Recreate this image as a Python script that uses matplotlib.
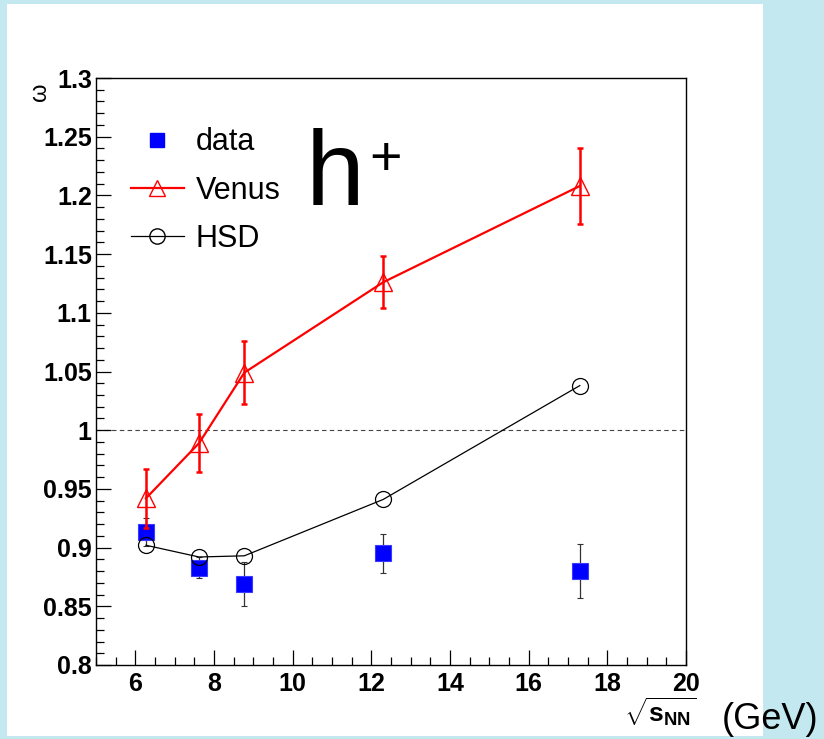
import matplotlib
matplotlib.use('Agg')
import matplotlib.pyplot as plt
from matplotlib.lines import Line2D
from matplotlib.patches import Rectangle
from matplotlib.ticker import MultipleLocator, FixedFormatter, FixedLocator

# beam energies sqrt(s_NN) in GeV
energy = [6.27, 7.62, 8.77, 12.3, 17.3]

# scaled variance omega for h+
data_w = [0.913, 0.883, 0.869, 0.895, 0.880]
data_err = [0.012, 0.009, 0.019, 0.017, 0.023]

venus_w = [0.942, 0.989, 1.049, 1.126, 1.208]
venus_err = [0.025, 0.025, 0.027, 0.022, 0.032]

hsd_w = [0.902, 0.892, 0.893, 0.941, 1.038]

xticks = [6, 8, 10, 12, 14, 16, 18, 20]
yticks = [0.8, 0.85, 0.9, 0.95, 1.0, 1.05, 1.1, 1.15, 1.2, 1.25, 1.3]
ytick_labels = ['0.8', '0.85', '0.9', '0.95', '1', '1.05', '1.1', '1.15', '1.2', '1.25', '1.3']

plt.rcParams['font.family'] = ['Liberation Sans', 'DejaVu Sans']
plt.rcParams['mathtext.fontset'] = 'custom'
plt.rcParams['mathtext.rm'] = 'Liberation Sans'
plt.rcParams['mathtext.bf'] = 'Liberation Sans:bold'
plt.rcParams['mathtext.it'] = 'Liberation Sans:italic'

fig = plt.figure(figsize=(8.24, 7.39), dpi=100, facecolor='#c3e8f0')
# white slide panel behind the plot
panel = Rectangle((7 / 824, 3 / 739), 756 / 824, 732 / 739,
                  transform=fig.transFigure, facecolor='white',
                  edgecolor='none', zorder=-10)
fig.add_artist(panel)

ax = fig.add_axes([96 / 824, 1 - 665 / 739, 590 / 824, 587 / 739])
ax.set_zorder(1)
ax.set_facecolor('white')

ax.set_xlim(5, 20)
ax.set_ylim(0.8, 1.3)

ax.axhline(1.0, color='#444444', lw=0.8, ls=(0, (4, 3)), zorder=1)

ax.errorbar(energy, data_w, yerr=data_err, fmt='s', color='#0000ff', ms=11,
            mec='#3a3aff', mew=0.8, ecolor='#333333', elinewidth=0.9,
            capsize=2, capthick=0.9, zorder=2)
ax.errorbar(energy, venus_w, yerr=venus_err, fmt='none', ecolor='#ff0000',
            elinewidth=1.8, capsize=2, capthick=1.8, zorder=3)
ax.plot(energy, venus_w, '-^', color='#ff0000', lw=1.6, ms=13, mfc='none',
        mec='#ff0000', mew=1.0, zorder=4)
ax.plot(energy, hsd_w, '-o', color='black', lw=0.9, ms=11.5, mfc='none',
        mec='black', mew=0.9, zorder=5)

# axis ticks in ROOT style
ax.xaxis.set_major_locator(FixedLocator(xticks))
ax.xaxis.set_minor_locator(MultipleLocator(0.5))
ax.yaxis.set_major_locator(FixedLocator(yticks))
ax.yaxis.set_major_formatter(FixedFormatter(ytick_labels))
ax.yaxis.set_minor_locator(MultipleLocator(0.01))
ax.tick_params(which='both', direction='in', top=False, right=False, width=0.9)
ax.tick_params(which='major', length=11, labelsize=18, pad=3)
ax.tick_params(axis='x', which='major', pad=5)
ax.tick_params(which='minor', length=5.5)
for lab in ax.get_xticklabels() + ax.get_yticklabels():
    lab.set_fontweight('bold')
for sp in ax.spines.values():
    sp.set_linewidth(1.0)

handles = [
    Line2D([], [], ls='none', marker='s', color='#0000ff', ms=10),
    Line2D([], [], ls='-', marker='^', color='#ff0000', lw=1.6, ms=12, mfc='none'),
    Line2D([], [], ls='-', marker='o', color='black', lw=0.9, ms=11, mfc='none'),
]
ax.legend(handles, ['data', 'Venus', 'HSD'], loc='upper left',
          bbox_to_anchor=(0.059, 0.916), frameon=False, fontsize=22,
          handlelength=1.73, handletextpad=0.4, labelspacing=0.6,
          borderpad=0, borderaxespad=0)

ax.text(0.355, 0.784, 'h', fontsize=76, ha='left', va='baseline',
        transform=ax.transAxes)
ax.text(0.49, 0.859, '+', fontsize=40, ha='center', va='center',
        transform=ax.transAxes)

ax.text(-0.095, 0.977, 'ω', rotation=90, fontsize=17, ha='center', va='center',
        transform=ax.transAxes)

fig.text(660 / 824, 1 - 712 / 739, r'$\sqrt{\mathbf{s}_{\mathbf{NN}}}$',
         fontsize=19, ha='center', va='center')
fig.text(722 / 824, 1 - 729 / 739, '(GeV)', fontsize=26, ha='left',
         va='baseline')

fig.savefig('out.png', dpi=100, facecolor=fig.get_facecolor())
